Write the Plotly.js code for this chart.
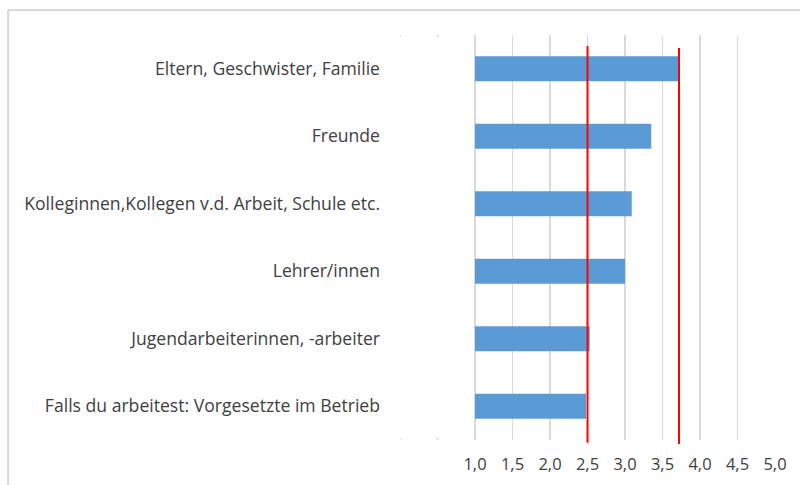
<!DOCTYPE html>
<html><head><meta charset="utf-8">
<script src="https://cdn.plot.ly/plotly-3.0.1.min.js"></script>
<style>html,body{margin:0;padding:0;background:#fff}#c{width:800px;height:485px}</style>
</head><body><div id="c"></div>
<script>
const categories = [
  "Eltern, Geschwister, Familie",
  "Freunde",
  "Kolleginnen,Kollegen v.d. Arbeit, Schule etc.",
  "Lehrer/innen",
  "Jugendarbeiterinnen, -arbeiter",
  "Falls du arbeitest: Vorgesetzte im Betrieb"
];
const values = [3.71, 3.35, 3.09, 3.00, 2.53, 2.48];
const barBase = 1.0;
const refLines = [2.5, 3.72];
const tickValues = [1.0, 1.5, 2.0, 2.5, 3.0, 3.5, 4.0, 4.5, 5.0];
const tickLabels = ["1,0","1,5","2,0","2,5","3,0","3,5","4,0","4,5","5,0"];
const hiddenGrid = [0.0, 0.5];

const shapes = [];
// frame
shapes.push({type:'line', xref:'paper', yref:'paper', x0:-1.045, x1:1.2, y0:1.0617, y1:1.0617, line:{color:'#d9d9d9', width:2}});
shapes.push({type:'line', xref:'paper', yref:'paper', x0:-1.045, x1:-1.045, y0:1.0617, y1:-0.2, line:{color:'#d9d9d9', width:2}});
// tiny grid marks
hiddenGrid.forEach(v => {
  shapes.push({type:'line', xref:'x', yref:'paper', x0:v, x1:v, y0:0.995, y1:1.0, line:{color:'#d9d9d9', width:1.5}});
  shapes.push({type:'line', xref:'x', yref:'paper', x0:v, x1:v, y0:0.0, y1:0.005, line:{color:'#d9d9d9', width:1.5}});
});
// red reference lines
shapes.push({type:'line', xref:'x', yref:'paper', x0:refLines[0], x1:refLines[0], y0:-0.007, y1:0.973, line:{color:'#ff0000', width:2}});
shapes.push({type:'line', xref:'x', yref:'paper', x0:refLines[1], x1:refLines[1], y0:-0.01, y1:0.968, line:{color:'#ff0000', width:2}});

const trace = {
  type:'bar', orientation:'h',
  y: categories,
  x: values.map(v => v - barBase),
  base: barBase,
  marker:{color:'#5b9bd5'},
  width:0.37,
  hoverinfo:'none'
};

const layout = {
  width:800, height:485,
  margin:{l:400, r:25, t:35, b:45, pad:0},
  paper_bgcolor:'#ffffff', plot_bgcolor:'#ffffff',
  showlegend:false,
  font:{family:'Open Sans, Liberation Sans, sans-serif', size:17, color:'#404040'},
  xaxis:{
    range:[0,5], tickvals:tickValues, ticktext:tickLabels,
    showgrid:true, gridcolor:'#d9d9d9', gridwidth:1.8,
    zeroline:false, showline:false, ticks:'', ticklabelstandoff:12,
    tickfont:{size:16.5, color:'#404040'}, fixedrange:true
  },
  yaxis:{
    type:'category', categoryorder:'array', categoryarray:categories,
    autorange:'reversed', showgrid:false, zeroline:false, showline:false,
    ticks:'', ticklabelstandoff:19, tickfont:{size:17.6, color:'#404040'}, fixedrange:true
  },
  shapes: shapes
};
Plotly.newPlot('c', [trace], layout, {displayModeBar:false, staticPlot:true});
</script></body></html>
